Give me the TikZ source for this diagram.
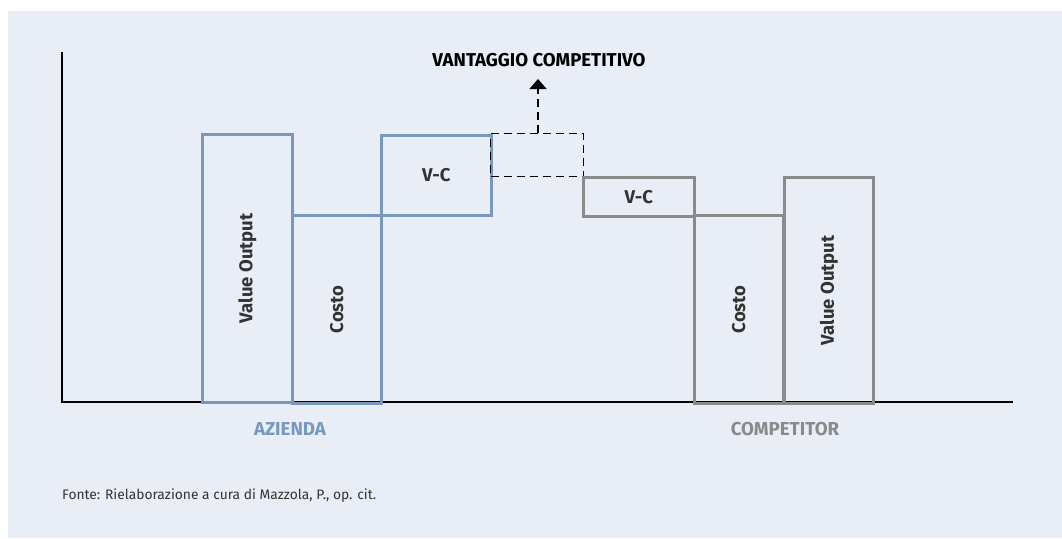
\documentclass[tikz,border=0pt]{standalone}
\usepackage{fontspec}
\setmainfont{Fira Sans}
\usetikzlibrary{arrows.meta}
\definecolor{panel}{HTML}{E9EDF5}
\definecolor{azblue}{HTML}{7A98BE}
\definecolor{cogray}{HTML}{8A8A8A}
\definecolor{txt}{HTML}{333333}
\begin{document}
\begin{tikzpicture}[x=1pt,y=-1pt,
  bar/.style={draw, line width=2.6pt, inner sep=0pt, anchor=north west, font=\fontsize{18.5}{20}\selectfont\bfseries, text=txt},
  azbar/.style={bar, draw=azblue},
  cobar/.style={bar, draw=cogray},
  barlab/.style={rotate=90, font=\fontsize{18.5}{20}\selectfont\bfseries, text=txt},
  dashbox/.style={draw=black, dashed, dash pattern=on 8pt off 5pt, line width=1.3pt, inner sep=0pt, anchor=north west},
  grp/.style={font=\fontsize{18.7}{20}\selectfont\bfseries},
  axisline/.style={draw=black, line width=1.4pt}
]
\useasboundingbox (0,0) rectangle (1062,538);
\fill[panel] (8,11) rectangle (1062,538);
% axes
\coordinate (ytop) at (62,52);
\coordinate (orig) at (62,402);
\coordinate (xend) at (1013,402);
\draw[axisline] (ytop) -- (orig) -- (xend);
% azienda
\node[azbar, minimum width=90pt, minimum height=268pt] (avo) at (201,133) {};
\node[barlab] at (avo.center) {Value Output};
\node[azbar, minimum width=89pt, minimum height=188pt] (aco) at (291,214) {};
\node[barlab] at (aco.center) {Costo};
\node[azbar, minimum width=110pt, minimum height=80pt] (avc) at (380,134) {V-C};
% dashed
\node[dashbox, minimum width=93pt, minimum height=43pt] (vant) at (490,133) {};
% competitor
\node[cobar, minimum width=111pt, minimum height=39pt] (cvc) at (582,176) {V-C};
\node[cobar, minimum width=89pt, minimum height=188pt] (cco) at (693,214) {};
\node[barlab] at (cco.center) {Costo};
\node[cobar, minimum width=89pt, minimum height=226pt] (cvo) at (783,176) {};
\node[barlab] at (cvo.center) {Value Output};
% label + arrow
\node[font=\fontsize{18.6}{20}\selectfont\bfseries, text=black] (vlab) at (539,60) {VANTAGGIO COMPETITIVO};
\coordinate (tip) at (538,79);
\draw[dashed, dash pattern=on 8pt off 5pt, line width=1.3pt, -{Triangle[width=17pt,length=10pt]}] (vant.north -| tip) -- (tip);
% group labels
\node[grp, text=azblue] (az) at (290,429) {AZIENDA};
\node[grp, text=cogray] (co) at (785,429) {COMPETITOR};
% source
\node[anchor=west, inner sep=0pt, font=\fontsize{13.8}{16}\selectfont, text=txt] (src) at (62,496) {Fonte: Rielaborazione a cura di Mazzola, P., op. cit.};
\end{tikzpicture}
\end{document}
